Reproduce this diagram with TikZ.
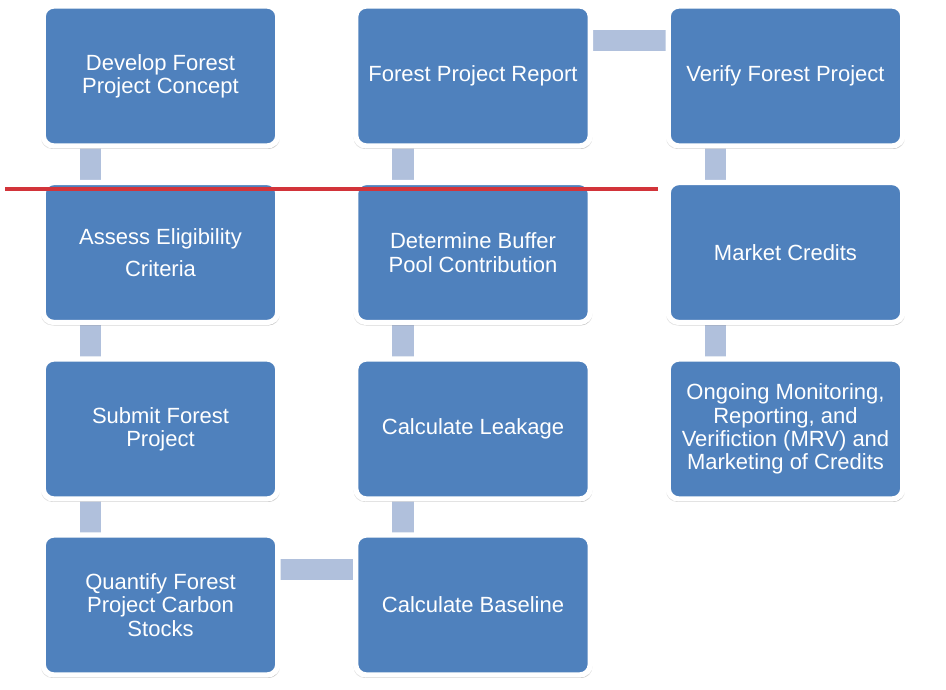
\documentclass[tikz,border=0pt]{standalone}
\usepackage{fontspec}
\setmainfont{Liberation Sans}
\usepackage{tikz}
\usetikzlibrary{shadows}
\usetikzlibrary{backgrounds}
\tikzset{>=latex}

\definecolor{boxblue}{HTML}{4F81BD}
\definecolor{linkblue}{HTML}{B0C0DC}
\definecolor{markred}{HTML}{D2343A}

\tikzset{
  stage/.style={rectangle, rounded corners=8pt, fill=boxblue, draw=white,
    line width=4pt, minimum width=176pt, minimum height=105pt,
    text=white, align=center, font=\fontsize{16.5}{17.5}\selectfont,
    general shadow={fill=black, opacity=0.12, shadow scale=1.018, shadow yshift=-1.2pt},
    drop shadow={shadow xshift=0.6pt, shadow yshift=-2.2pt, opacity=0.22, fill=black}},
  link/.style={draw=linkblue, line width=16pt}
}

\begin{document}
\begin{tikzpicture}[x=0.75pt, y=-0.75pt]
  \useasboundingbox (0,0) rectangle (946,689);

  % Draw the stages, column by column
  \node[stage] (develop)  at (160.5,76)  {Develop Forest\\Project Concept};
  \node[stage] (assess)   at (160.5,252.5) {Assess Eligibility\\[6.5pt]Criteria};
  \node[stage] (submit)   at (160.5,429) {Submit Forest\\Project};
  \node[stage] (quantify) at (160.5,605) {Quantify Forest\\Project Carbon\\Stocks};

  \node[stage] (report)   at (473,76)    {Forest Project Report};
  \node[stage] (buffer)   at (473,252.5) {Determine Buffer\\Pool Contribution};
  \node[stage] (leakage)  at (473,429)   {Calculate Leakage};
  \node[stage] (baseline) at (473,605)   {Calculate Baseline};

  \node[stage] (verify)   at (785.5,76)    {Verify Forest Project};
  \node[stage] (market)   at (785.5,252.5) {Market Credits};
  \node[stage] (ongoing)  at (785.5,429)   {Ongoing Monitoring,\\Reporting, and\\Verifiction (MRV) and\\Marketing of Credits};

  % Optional: the links sit behind the stages
  \begin{scope}[on background layer]
    \foreach \a/\b in {develop/assess, assess/submit, submit/quantify,
                       baseline/leakage, leakage/buffer, buffer/report,
                       verify/market, market/ongoing}
      \draw[link] ([xshift=-52.5pt]\a.center) -- ([xshift=-52.5pt]\b.center);
    \foreach \a/\b in {quantify/baseline, report/verify}
      \draw[link] ([yshift=26.5pt]\a.center) -- ([yshift=26.5pt]\b.center);
  \end{scope}

  % red mark across the second row
  \draw[markred, line width=3pt] (5,189) -- (657.5,189);
\end{tikzpicture}
\end{document}
